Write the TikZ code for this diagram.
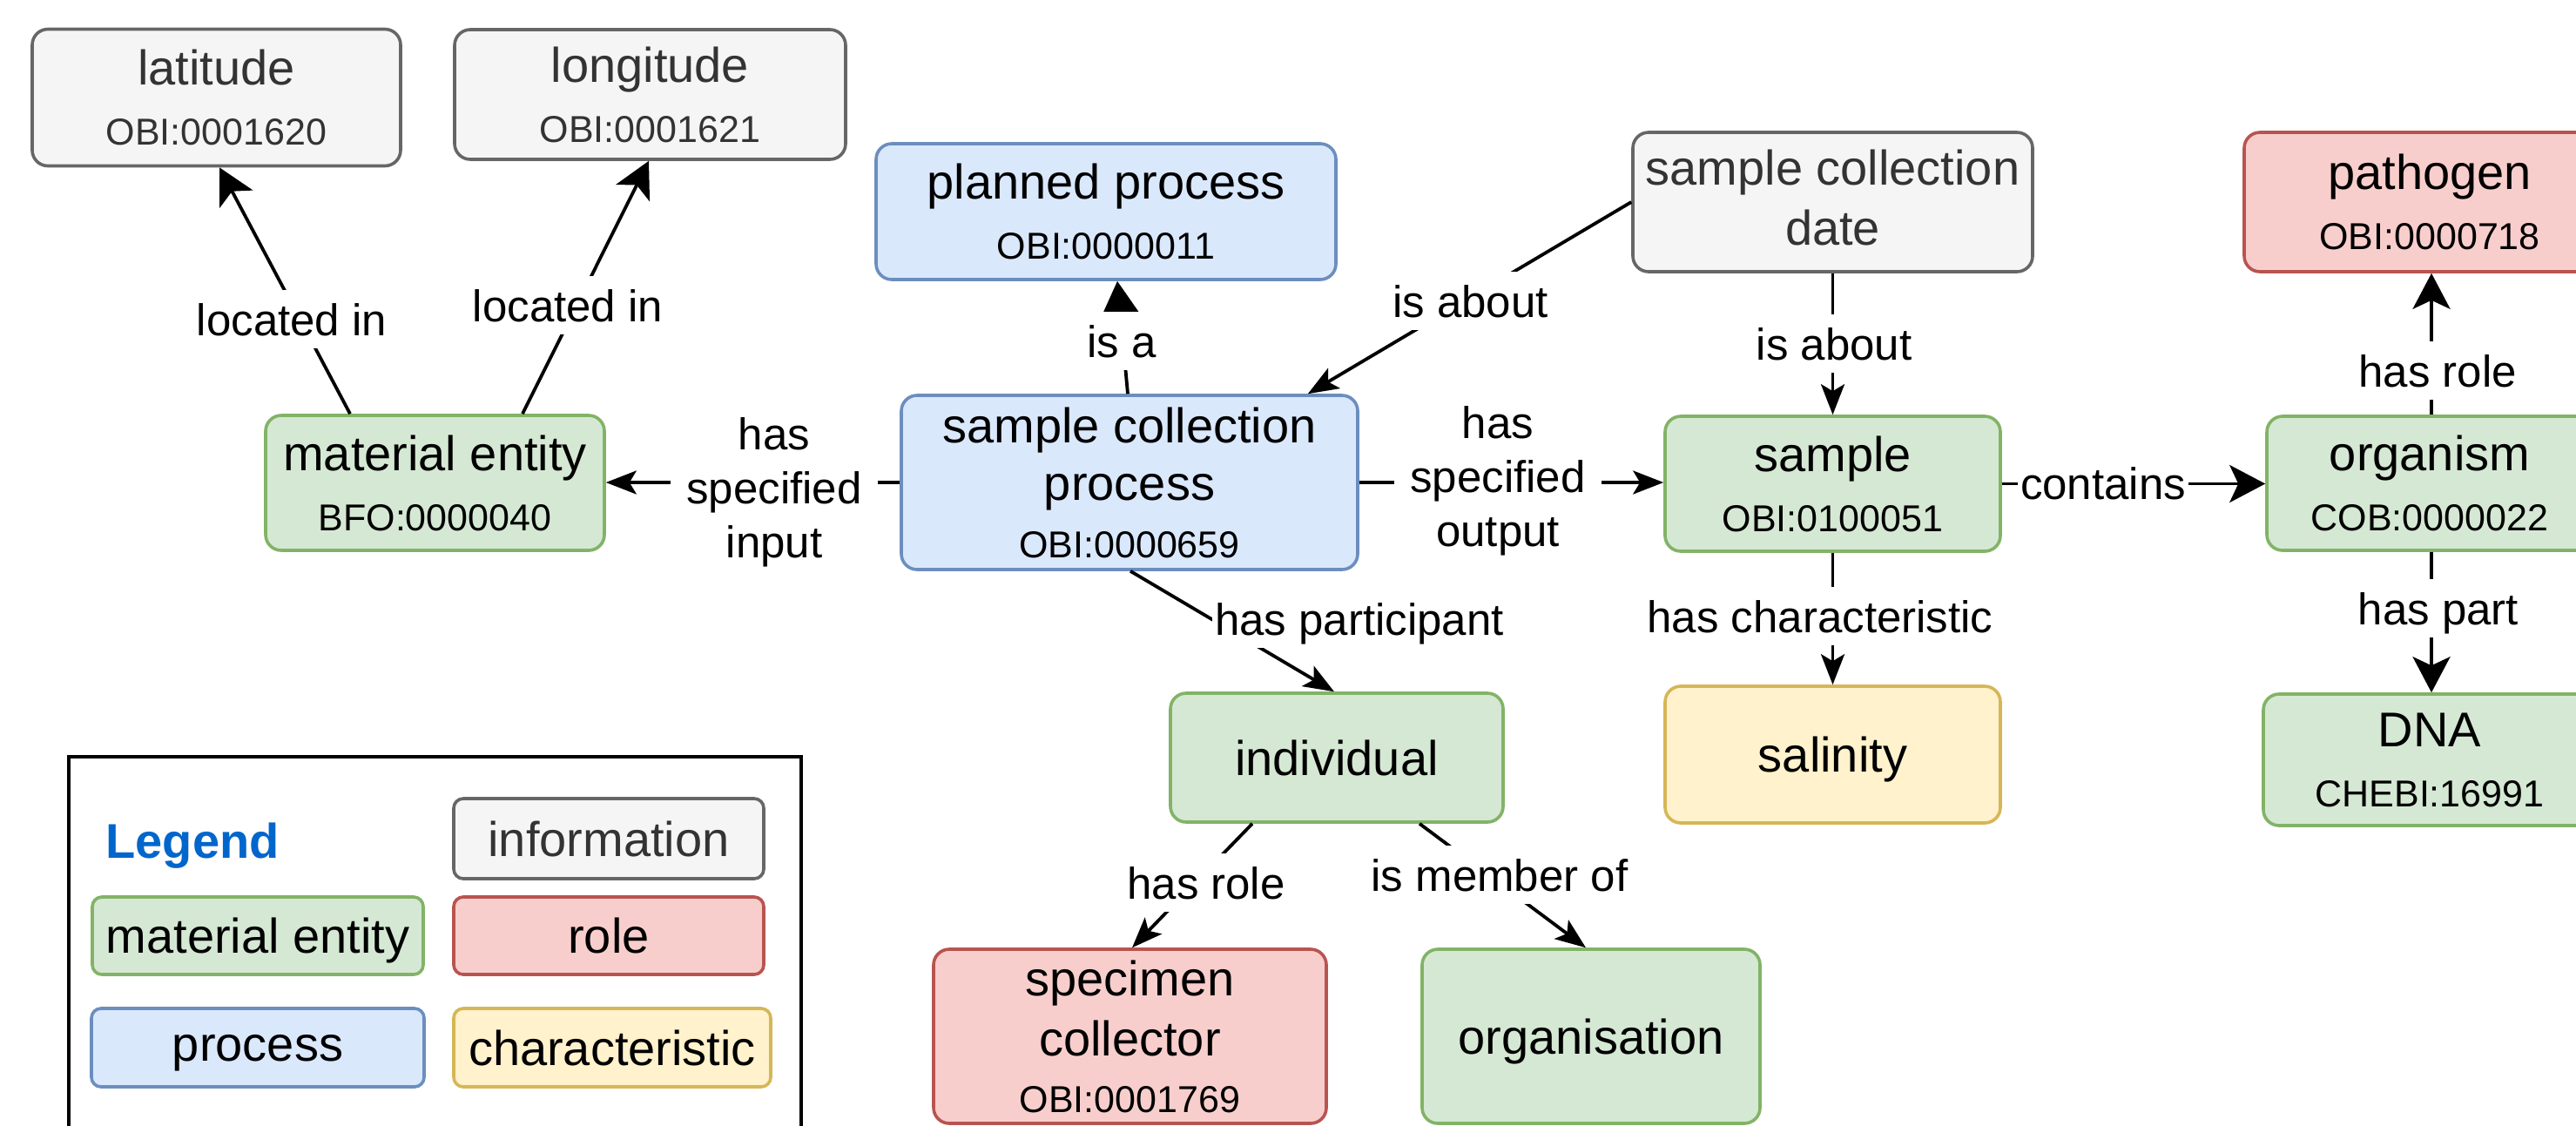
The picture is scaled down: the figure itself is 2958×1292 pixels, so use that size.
\documentclass[tikz,border=0pt]{standalone}
\usepackage{fontspec}
\setmainfont{Liberation Sans}
\usetikzlibrary{arrows.meta,calc}
\definecolor{infofill}{HTML}{F5F5F5}
\definecolor{infodraw}{HTML}{666666}
\definecolor{infotext}{HTML}{333333}
\definecolor{matfill}{HTML}{D5E8D4}
\definecolor{matdraw}{HTML}{82B366}
\definecolor{procfill}{HTML}{DAE8FC}
\definecolor{procdraw}{HTML}{6C8EBF}
\definecolor{rolefill}{HTML}{F8CECC}
\definecolor{roledraw}{HTML}{B85450}
\definecolor{charfill}{HTML}{FFF2CC}
\definecolor{chardraw}{HTML}{D6B656}
\definecolor{legendblue}{HTML}{0066CC}
\newcommand\idtxt[1]{{\fontsize{21.5}{25}\selectfont #1}}
\begin{document}
\begin{tikzpicture}[x=0.5pt,y=-0.5pt,
  nbox/.style={rounded corners=9pt, line width=1.8pt, inner sep=0pt, align=center, text depth=0pt, font=\fontsize{28}{34.5}\selectfont},
  infobox/.style={nbox, fill=infofill, draw=infodraw, text=infotext},
  matbox/.style={nbox, fill=matfill, draw=matdraw},
  procbox/.style={nbox, fill=procfill, draw=procdraw},
  rolebox/.style={nbox, fill=rolefill, draw=roledraw},
  charbox/.style={nbox, fill=charfill, draw=chardraw},
  legbox/.style={rounded corners=5.5pt},
  elabel/.style={fill=white, inner xsep=1.5pt, inner ysep=1pt, text height=25pt, text depth=6.5pt, font=\fontsize{25.5}{31}\selectfont},
  mlabel/.style={fill=white, inner xsep=9pt, inner ysep=2pt, align=center, font=\fontsize{25.5}{31}\selectfont},
  conn/.style={line width=1.9pt, draw=black},
  bigarrow/.style={conn, -{Stealth[length=20.5pt,width=21.5pt,inset=5pt]}},
  smallarrow/.style={conn, -{Stealth[length=17.5pt,width=13.5pt,inset=4pt]}},
  triarrow/.style={conn, -{Triangle[length=19pt,width=21pt]}}
]
\useasboundingbox (0,0) rectangle (2958,1292);
\clip (0,0) rectangle (2958,1292);
\fill[white] (0,0) rectangle (2958,1292);

% legend frame
\draw[line width=2.2pt] (79,869) rectangle (920,1400);

% main nodes
\node[infobox, minimum width=211.5pt, minimum height=78.5pt] (lat) at (248.5,112) {latitude\\\idtxt{OBI:0001620}};
\node[infobox, minimum width=224.5pt, minimum height=74.5pt] (lon) at (746.5,108.5) {longitude\\\idtxt{OBI:0001621}};
\node[matbox, minimum width=194.5pt, minimum height=77.5pt] (me) at (499.5,554.5) {material entity\\\idtxt{BFO:0000040}};
\node[procbox, minimum width=264pt, minimum height=78pt] (pp) at (1270,243) {planned process\\\idtxt{OBI:0000011}};
\node[procbox, minimum width=262pt, minimum height=100pt] (scp) at (1297,554) {sample collection\\[-1.5pt]process\\[-1.5pt]\idtxt{OBI:0000659}};
\node[infobox, minimum width=229.5pt, minimum height=80pt, text height=49pt] (scd) at (2104.5,232) {sample collection\\date};
\node[rolebox, minimum width=213pt, minimum height=80pt] (path) at (2790,232) {pathogen\\\idtxt{OBI:0000718}};
\node[matbox, minimum width=192.5pt, minimum height=77.5pt] (sample) at (2104.5,555.5) {sample\\\idtxt{OBI:0100051}};
\node[matbox, minimum width=187pt, minimum height=77pt] (org) at (2790,555) {organism\\\idtxt{COB:0000022}};
\node[charbox, minimum width=192.5pt, minimum height=78.5pt] (sal) at (2104.5,866.5) {salinity};
\node[matbox, minimum width=191pt, minimum height=75.5pt] (dna) at (2790,872.5) {DNA\\\idtxt{CHEBI:16991}};
\node[matbox, minimum width=191pt, minimum height=74pt] (ind) at (1535,870) {individual};
\node[rolebox, minimum width=225.5pt, minimum height=100pt] (spec) at (1297.5,1190) {specimen\\collector\\[-2pt]\idtxt{OBI:0001769}};
\node[matbox, minimum width=194pt, minimum height=100pt] (orgn) at (1827,1190) {organisation};

% legend
\node[font=\bfseries\fontsize{28}{34}\selectfont, text=legendblue, anchor=base, inner sep=0pt] (legtitle) at (221,985) {Legend};
\node[infobox, legbox, minimum width=178pt, minimum height=46pt] (linfo) at (699,963) {information};
\node[matbox, legbox, minimum width=190pt, minimum height=44.5pt] (lmat) at (296,1074.5) {material entity};
\node[rolebox, legbox, minimum width=178pt, minimum height=44.5pt] (lrole) at (699,1074.5) {role};
\node[procbox, legbox, minimum width=191pt, minimum height=45pt] (lproc) at (296,1203) {process};
\node[charbox, legbox, minimum width=182pt, minimum height=45pt] (lchar) at (703,1203) {characteristic};

% connectors
\draw[bigarrow] ($(me.north)+(-97.5,0)$) -- ($(lat.south)+(3.5,0)$);
\draw[bigarrow] ($(me.north)+(100.5,0)$) -- ($(lon.south)+(-1.5,0)$);
\draw[smallarrow] (scp.west) -- (scp.west -| me.east);
\draw[triarrow] ($(scp.north)+(-2,0)$) -- ($(pp.south)+(13,0)$);
\draw[smallarrow] (scd.west) -- ($(scp.north east)+(-59,0)$);
\draw[smallarrow] (scp.east) -- (scp.east -| sample.west);
\draw[smallarrow] (scd.south) -- (sample.north);
\draw[smallarrow] (sample.south) -- (sal.north);
\draw[bigarrow] (sample.east) -- (sample.east -| org.west);
\draw[bigarrow] ($(org.north)+(2,0)$) -- ($(path.south)+(2,0)$);
\draw[bigarrow] ($(org.south)+(2,0)$) -- ($(dna.north)+(2,0)$);
\draw[smallarrow] ($(scp.south)+(1,0)$) -- ($(ind.north)+(-3,0)$);
\draw[smallarrow] ($(ind.south)+(-97,0)$) -- ($(spec.north)+(2.5,0)$);
\draw[smallarrow] ($(ind.south)+(95,0)$) -- ($(orgn.north)+(-6,0)$);

% connector labels
\node[elabel] (l1) at (335,366.5) {located in};
\node[elabel] (l2) at (652,350.5) {located in};
\node[mlabel] (l3) at (889,565) {has\\specified\\input};
\node[elabel] (l4) at (1288,391.5) {is a};
\node[elabel] (l5) at (1688.5,345.5) {is about};
\node[mlabel] (l6) at (1720,552.5) {has\\specified\\output};
\node[elabel] (l7) at (2106,394.5) {is about};
\node[elabel] (l8) at (2090,707.5) {has characteristic};
\node[elabel] (l9) at (2415,554.5) {contains};
\node[elabel] (l10) at (2799,425.5) {has role};
\node[elabel] (l11) at (2800,698.5) {has part};
\node[elabel] (l12) at (1561,710.5) {has participant};
\node[elabel] (l13) at (1385,1013.5) {has role};
\node[elabel] (l14) at (1722,1004.5) {is member of};
\end{tikzpicture}
\end{document}
